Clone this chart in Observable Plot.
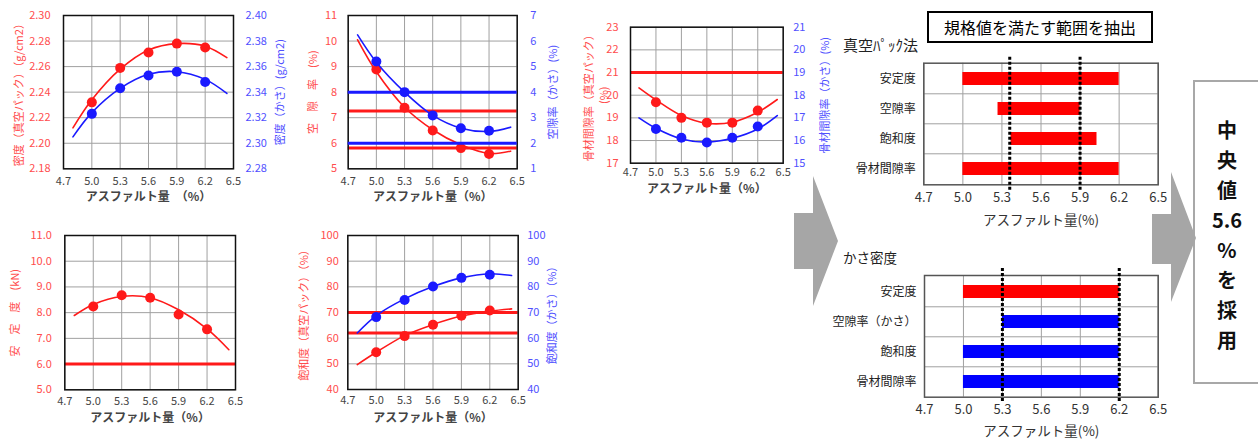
<!DOCTYPE html>
<html><head><meta charset="utf-8">
<script src="https://cdn.jsdelivr.net/npm/d3@7"></script>
<script src="https://cdn.jsdelivr.net/npm/@observablehq/plot@0.6"></script>
<style>
html,body{margin:0;padding:0;background:#fff;}
#root{position:relative;width:1258px;height:443px;overflow:hidden;font-family:"Noto Sans CJK JP","Noto Sans",sans-serif;}
#root svg{max-width:none;}
.pl{position:absolute;}
</style></head><body><div id="root"></div>
<script>
// ---------- shared values ----------
const xTicks = [4.7, 5.0, 5.3, 5.6, 5.9, 6.2, 6.5];
const asphalt = [5.0, 5.3, 5.6, 5.9, 6.2];
const curveX = [4.8, 5.0, 5.3, 5.6, 5.9, 6.2, 6.43];

// ---------- panel 1: density ----------
const densTicksL = [2.18, 2.20, 2.22, 2.24, 2.26, 2.28, 2.30];
const densTicksR = [2.28, 2.30, 2.32, 2.34, 2.36, 2.38, 2.40];
const densVacPts = [2.232, 2.259, 2.271, 2.278, 2.275];
const densVacCurve = [2.212, 2.234, 2.258, 2.273, 2.278, 2.276, 2.267];
const densBulkPts = [2.323, 2.343, 2.353, 2.356, 2.348];
const densBulkCurve = [2.305, 2.324, 2.343, 2.354, 2.356, 2.350, 2.339];

// ---------- panel 2: voids ----------
const voidTicksL = [5, 6, 7, 8, 9, 10, 11];
const voidTicksR = [1, 2, 3, 4, 5, 6, 7];
const voidVacPts = [8.89, 7.39, 6.5, 5.81, 5.58];
const voidVacCurve = [10.05, 8.8, 7.41, 6.53, 5.94, 5.6, 5.69];
const voidBulkPts = [5.2, 4.0, 3.09, 2.59, 2.49];
const voidBulkCurve = [6.24, 5.17, 4.0, 3.09, 2.59, 2.46, 2.63];
const voidVacLimits = [7.26, 5.81];
const voidBulkLimits = [4, 2];

// ---------- panel 3: VMA ----------
const vmaTicksL = [17, 18, 19, 20, 21, 22, 23];
const vmaTicksR = [15, 16, 17, 18, 19, 20, 21];
const vmaVacPts = [19.69, 19.0, 18.79, 18.79, 19.32];
const vmaVacCurve = [20.32, 19.79, 19.1, 18.76, 18.81, 19.25, 19.81];
const vmaBulkPts = [16.51, 16.12, 15.91, 16.12, 16.62];
const vmaBulkCurve = [17.0, 16.54, 16.07, 15.93, 16.1, 16.51, 17.1];
const vmaVacLimits = [21];

// ---------- panel 4: stability ----------
const stabTicks = [5, 6, 7, 8, 9, 10, 11];
const stabPts = [8.24, 8.68, 8.58, 7.93, 7.35];
const stabCurve = [7.89, 8.32, 8.63, 8.58, 8.11, 7.37, 6.56];
const stabLimits = [6.0];

// ---------- panel 5: saturation ----------
const satTicks = [40, 50, 60, 70, 80, 90, 100];
const satVacPts = [54.5, 60.8, 65.2, 68.7, 70.8];
const satVacCurve = [49.7, 54.5, 61.0, 65.3, 68.6, 70.5, 71.4];
const satBulkPts = [68.2, 74.9, 80.1, 83.5, 84.7];
const satBulkCurve = [62.0, 68.8, 75.3, 80.1, 83.5, 85.1, 84.4];
const satVacLimits = [70, 62];

// ---------- range bar charts ----------
const vacCats = ["安定度", "空隙率", "飽和度", "骨材間隙率"];
const vacFrom = [5.0, 5.27, 5.37, 5.0];
const vacTo = [6.2, 5.9, 6.03, 6.2];
const vacColors = ["#ff0000", "#ff0000", "#ff0000", "#ff0000"];
const vacRange = [5.36, 5.9];
const bulkCats = ["安定度", "空隙率（かさ）", "飽和度", "骨材間隙率"];
const bulkFrom = [5.0, 5.3, 5.0, 5.0];
const bulkTo = [6.2, 6.2, 6.2, 6.2];
const bulkColors = ["#ff0000", "#0000ff", "#0000ff", "#0000ff"];
const bulkRange = [5.3, 6.2];

// ---------- drawing ----------
const RED = "#ff1a1a", BLUE = "#1a1aff", RED_T = "#ff4d4d", BLUE_T = "#5050ff";
const FONT = '"Noto Sans CJK JP","Noto Sans",sans-serif';
const root = document.getElementById("root");
function place(el, left, top) {
  const d = document.createElement("div");
  d.className = "pl";
  d.style.left = left + "px"; d.style.top = top + "px";
  d.appendChild(el); root.appendChild(d);
}
function pts(xs, ys) { return xs.map((x, i) => ({x, y: ys[i]})); }
function series(pointsY, curveY, color) {
  return [
    Plot.line(pts(curveX, curveY), {x: "x", y: "y", curve: "catmull-rom", stroke: color, strokeWidth: 1.6}),
    Plot.dot(pts(asphalt, pointsY), {x: "x", y: "y", r: 5, fill: color})
  ];
}
function limits(vals, color) {
  return Plot.ruleY(vals, {stroke: color, strokeWidth: 3});
}

function linePanel(c) {
  const common = {
    width: c.width, height: c.height,
    marginTop: c.mt, marginRight: c.mr, marginBottom: c.mb, marginLeft: c.ml,
    style: {background: "transparent", overflow: "visible", fontFamily: FONT}
  };
  const base = Plot.plot({
    ...common,
    x: {domain: [4.7, 6.5], axis: null},
    y: {domain: [c.ticksL[0], c.ticksL[c.ticksL.length - 1]], axis: null},
    marks: [
      Plot.gridX(xTicks, {stroke: "#a0a0a0", strokeOpacity: 1, strokeWidth: 1}),
      Plot.gridY(c.ticksL, {stroke: "#a0a0a0", strokeOpacity: 1, strokeWidth: 1}),
      Plot.axisX(xTicks, {tickSize: 0, tickPadding: c.xPad, tickFormat: d => d.toFixed(1), fontSize: 11, color: "#444", label: null}),
      Plot.axisY(c.ticksL, {anchor: "left", tickSize: 0, tickPadding: c.lPad, tickFormat: c.fmtL, fontSize: 11, color: RED_T, label: null}),
      ...c.marksL,
      Plot.frame({stroke: "#111", strokeWidth: 1.5}),
      Plot.text([c.xLabel], {text: d => d, frameAnchor: "bottom", dy: c.xLabelDy, fontSize: 12, fontWeight: "bold", fill: "#444"}),
      Plot.text([c.labelL], {text: d => d, frameAnchor: "left", textAnchor: "middle", lineAnchor: "middle", dx: -c.labelLdx, rotate: -90, fontSize: 11, lineHeight: 1.35, fill: RED_T})
    ]
  });
  place(base, c.left, c.top);
  if (c.ticksR) {
    const over = Plot.plot({
      ...common,
      x: {domain: [4.7, 6.5], axis: null},
      y: {domain: [c.ticksR[0], c.ticksR[c.ticksR.length - 1]], axis: null},
      marks: [
        Plot.axisY(c.ticksR, {anchor: "right", tickSize: 0, tickPadding: c.rPad, tickFormat: c.fmtR, fontSize: 11, color: BLUE_T, label: null}),
        ...c.marksR,
        Plot.text([c.labelR], {text: d => d, frameAnchor: "right", textAnchor: "middle", lineAnchor: "middle", dx: c.labelRdx, rotate: -90, fontSize: 11, fill: BLUE_T})
      ]
    });
    place(over, c.left, c.top);
  }
}

const f2 = d => d.toFixed(2), f0 = d => d.toFixed(0), f1 = d => d.toFixed(1);

// panel 1
linePanel({
  left: 0, top: 0, width: 290, height: 215, mt: 15, mr: 57, mb: 46.7, ml: 63,
  ticksL: densTicksL, ticksR: densTicksR, fmtL: f2, fmtR: f2,
  xPad: 8, lPad: 13, rPad: 12, xLabelDy: 32,
  xLabel: "アスファルト量　（%）",
  labelL: "密度（真空パック）（g/cm2）", labelLdx: 45,
  labelR: "密度（かさ）(g/cm2)", labelRdx: 47,
  marksL: series(densVacPts, densVacCurve, RED),
  marksR: series(densBulkPts, densBulkCurve, BLUE)
});
// panel 2
linePanel({
  left: 290, top: 0, width: 270, height: 215, mt: 15, mr: 43.3, mb: 46.7, ml: 57.7,
  ticksL: voidTicksL, ticksR: voidTicksR, fmtL: f0, fmtR: f0,
  xPad: 8, lPad: 11, rPad: 13, xLabelDy: 32,
  xLabel: "アスファルト量（%）",
  labelL: "空　隙　率　(%)", labelLdx: 36,
  labelR: "空隙率（かさ）(%)", labelRdx: 36,
  marksL: [limits(voidVacLimits, RED), ...series(voidVacPts, voidVacCurve, RED)],
  marksR: [limits(voidBulkLimits, BLUE), ...series(voidBulkPts, voidBulkCurve, BLUE)]
});
// panel 3
linePanel({
  left: 560, top: 0, width: 280, height: 215, mt: 26.7, mr: 57.3, mb: 52.3, ml: 70,
  ticksL: vmaTicksL, ticksR: vmaTicksR, fmtL: f0, fmtR: f0,
  xPad: 5, lPad: 12, rPad: 10, xLabelDy: 30,
  xLabel: "アスファルト量（%）",
  labelL: "骨材間隙率（真空パック）\n(%)", labelLdx: 35,
  labelR: "骨材間隙率（かさ）(%)", labelRdx: 42,
  marksL: [limits(vmaVacLimits, RED), ...series(vmaVacPts, vmaVacCurve, RED)],
  marksR: series(vmaBulkPts, vmaBulkCurve, BLUE)
});
// panel 4
linePanel({
  left: 0, top: 220, width: 290, height: 223, mt: 15, mr: 55, mb: 53.7, ml: 64.3,
  ticksL: stabTicks, fmtL: f1,
  xPad: 7, lPad: 13, xLabelDy: 32,
  xLabel: "アスファルト量（%）",
  labelL: "安　定　度　(kN)", labelLdx: 51,
  marksL: [limits(stabLimits, RED), ...series(stabPts, stabCurve, RED)]
});
// panel 5
linePanel({
  left: 290, top: 220, width: 270, height: 223, mt: 15, mr: 42.3, mb: 54, ml: 57.3,
  ticksL: satTicks, ticksR: satTicks, fmtL: f0, fmtR: f0,
  xPad: 7, lPad: 9, rPad: 9, xLabelDy: 32,
  xLabel: "アスファルト量（%）",
  labelL: "飽和度（真空パック）（%）", labelLdx: 45,
  labelR: "飽和度（かさ）（%）", labelRdx: 34,
  marksL: [limits(satVacLimits, RED), ...series(satVacPts, satVacCurve, RED)],
  marksR: series(satBulkPts, satBulkCurve, BLUE)
});

function barPanel(c) {
  const data = c.cats.map((cat, i) => ({cat, from: c.from[i], to: c.to[i], color: c.colors[i]}));
  const step = (c.height - c.mt - c.mb) / c.cats.length;
  const p = Plot.plot({
    width: c.width, height: c.height,
    marginTop: c.mt, marginRight: c.mr, marginBottom: c.mb, marginLeft: c.ml,
    style: {background: "transparent", overflow: "visible", fontFamily: FONT},
    x: {domain: [4.7, 6.5], axis: null},
    y: {domain: c.cats, paddingInner: 0.58, paddingOuter: 0.29, axis: null},
    marks: [
      Plot.gridX(xTicks, {stroke: "#a0a0a0", strokeOpacity: 1, strokeWidth: 1}),
      Plot.ruleY(c.cats.slice(1), {stroke: "#a0a0a0", strokeWidth: 1, dy: -step / 2}),
      Plot.barX(data, {x1: "from", x2: "to", y: "cat", fill: "color"}),
      Plot.frame({stroke: "#555", strokeWidth: 1.5}),
      Plot.ruleX(c.range, {stroke: "#000", strokeWidth: 3, strokeDasharray: "3,2", insetTop: c.extTop, insetBottom: c.extBottom}),
      Plot.axisX(xTicks, {tickSize: 0, tickPadding: 8, tickFormat: d => d.toFixed(1), fontSize: 13, color: "#333", label: null}),
      Plot.axisY(c.cats, {anchor: "left", tickSize: 0, tickPadding: 8, fontSize: 12, color: "#222", label: null}),
      Plot.text(["アスファルト量(%)"], {text: d => d, frameAnchor: "bottom", dy: c.xLabelDy, fontSize: 13.5, fill: "#333"})
    ]
  });
  place(p, c.left, c.top);
}
barPanel({left: 800, top: 50, width: 380, height: 180, mt: 12.7, mr: 22.3, mb: 45.7, ml: 123.3,
  cats: vacCats, from: vacFrom, to: vacTo, colors: vacColors, range: vacRange, extTop: -6, extBottom: -6, xLabelDy: 40});
barPanel({left: 800, top: 260, width: 380, height: 183, mt: 15, mr: 22.3, mb: 46.3, ml: 124,
  cats: bulkCats, from: bulkFrom, to: bulkTo, colors: bulkColors, range: bulkRange, extTop: -7, extBottom: -5, xLabelDy: 39});

// ---------- annotations ----------
function addDiv(html, css) {
  const d = document.createElement("div");
  d.style.cssText = "position:absolute;" + css;
  d.innerHTML = html; root.appendChild(d);
}
addDiv("規格値を満たす範囲を抽出", "left:927px;top:11px;width:222px;height:28px;border:2px solid #000;font-size:16px;line-height:28px;text-align:center;color:#000;background:#fff;");
addDiv("真空ﾊﾟｯｸ法", "left:843px;top:35px;font-size:15px;line-height:20px;color:#222;");
addDiv("かさ密度", "left:843px;top:248px;font-size:13.5px;line-height:18px;color:#222;");
addDiv("中<br>央<br>値<br>5.6<br>%<br>を<br>採<br>用", "left:1193px;top:80px;width:76px;height:304px;border:2px solid #a8a8a8;box-sizing:border-box;padding-top:33px;font-size:20px;font-weight:bold;line-height:30px;text-align:center;padding-right:8px;color:#111;");

const NS = "http://www.w3.org/2000/svg";
const deco = document.createElementNS(NS, "svg");
deco.setAttribute("width", 1258); deco.setAttribute("height", 443);
deco.style.cssText = "position:absolute;left:0;top:0;pointer-events:none;";
[
  "794,213 813,213 813,176 838,241 813,306 813,269 794,269",
  "1152,214 1171,214 1171,172 1196,238 1171,302 1171,264 1152,264"
].forEach(s => {
  const pg = document.createElementNS(NS, "polygon");
  pg.setAttribute("points", s); pg.setAttribute("fill", "#a6a6a6");
  deco.appendChild(pg);
});
root.appendChild(deco);
</script></body></html>
